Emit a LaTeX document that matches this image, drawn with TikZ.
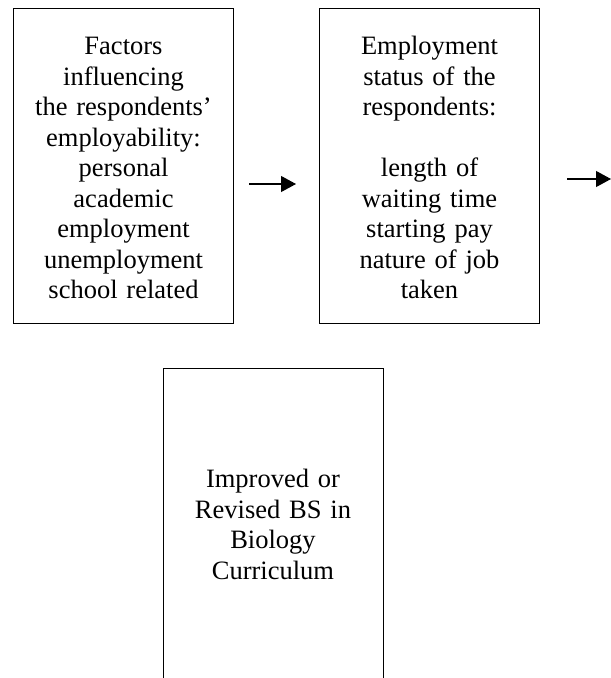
\documentclass[tikz,border=0pt]{standalone}
\usepackage{fontspec}
\setmainfont{Liberation Serif}
\usepackage{tikz}
\usetikzlibrary{arrows.meta, positioning}

\begin{document}
\begin{tikzpicture}[x=1pt, y=1pt,
    box/.style={draw, line width=1pt, minimum width=220pt, minimum height=315pt, inner sep=0pt},
    txt/.style={align=center, text width=210pt, inner sep=0pt, font=\fontsize{26.5}{30.5}\selectfont},
    arr/.style={-{Triangle[length=15pt, width=16pt]}, line width=1.1pt}]
  % Page area
  \clip (0,0) rectangle (611,-678);

  % Boxes
  \node[box] (factors) at (123.5,-165.5) {};
  \node[box, right=85pt of factors] (status) {};
  \node[box] (improved) at (273,-525.5) {};

  % Texts in the boxes
  \node[txt, anchor=base] (factorstxt) at ([yshift=-47pt]factors.north)
    {Factors\\ influencing\\ the respondents’\\ employability:\\ personal\\ academic\\ employment\\ unemployment\\ school related};
  \node[txt, anchor=base] (statustxt) at ([yshift=-47pt]status.north)
    {Employment\\ status of the\\ respondents:\\[30.5pt] length of\\ waiting time\\ starting pay\\ nature of job\\ taken};
  \node[txt, anchor=base] (improvedtxt) at ([yshift=-120pt]improved.north)
    {Improved or\\ Revised BS in\\ Biology\\ Curriculum};

  % Arrows
  \coordinate (outlet) at (611,-179);
  \draw[arr] ([xshift=15pt, yshift=-18.5pt]factors.east) -- ([xshift=-23pt, yshift=-18.5pt]status.west);
  \draw[arr] ([xshift=27pt]status.east |- outlet) -- (outlet);
\end{tikzpicture}
\end{document}
